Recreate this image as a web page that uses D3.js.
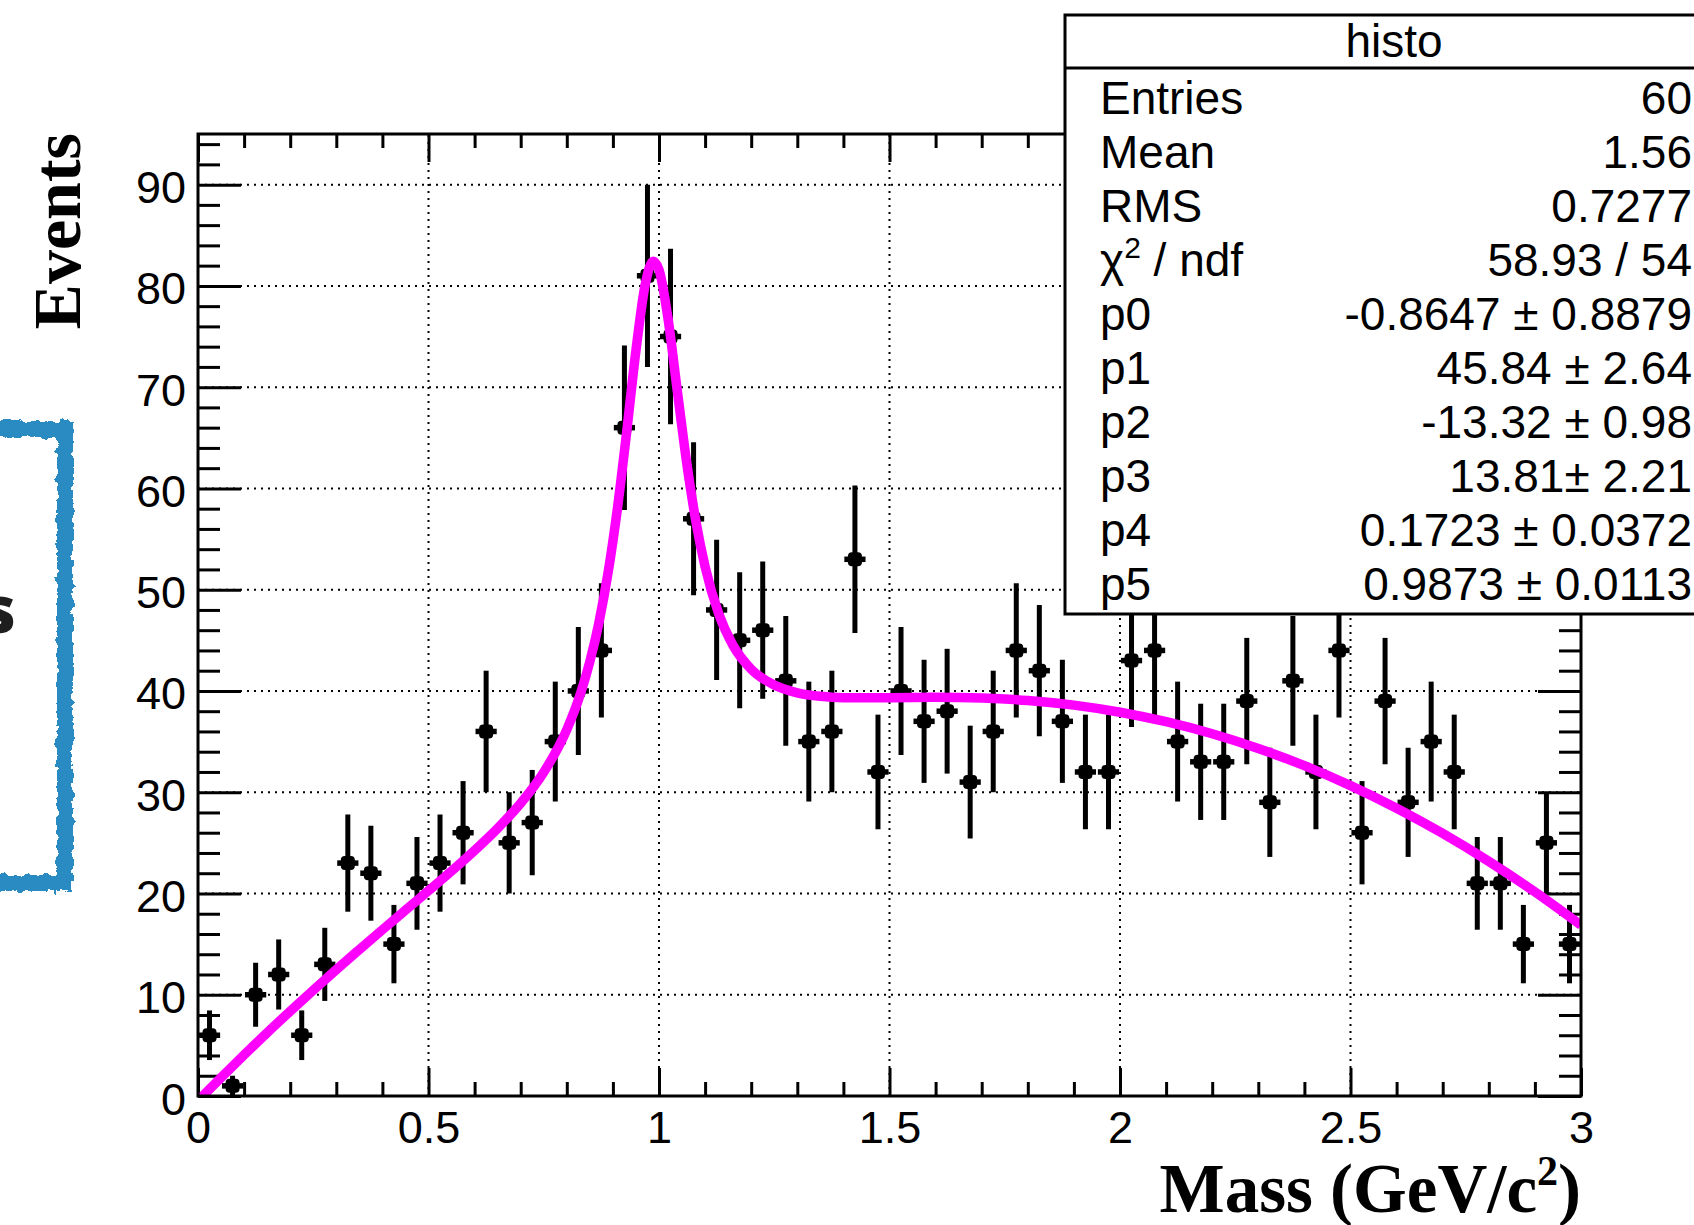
<!DOCTYPE html>
<meta charset="utf-8">

<!-- Load d3.js -->
<script src="https://d3js.org/d3.v7.min.js"></script>

<style>
  body { margin: 0; background: #ffffff; }
  svg { display: block; }
</style>

<svg id="my_dataviz" width="1694" height="1225"></svg>

<script>
// Histogram contents, 60 bins between 0 and 3 GeV/c2
var counts = [ 6, 1,10,12, 6,13,23,22,15,21,
              23,26,36,25,27,35,40,44,66,81,
              75,57,48,45,46,41,35,36,53,32,
              40,37,38,31,36,44,42,37,32,32,
              43,44,35,33,33,39,29,41,32,44,
              26,39,29,35,32,21,21,15,25,15];

// Error bar half lengths
var errors = [2.45,1.00,3.16,3.46,2.45,3.61,4.80,4.69,3.87,4.58,
              4.80,5.10,6.00,5.00,5.20,5.92,6.32,6.63,8.12,9.00,
              8.66,7.55,6.93,6.71,6.78,6.40,5.92,6.00,7.28,5.66,
              6.32,6.08,6.16,5.57,6.00,6.63,6.48,6.08,5.66,5.66,
              6.56,6.63,5.92,5.74,5.74,6.24,5.39,6.40,5.66,6.63,
              5.10,6.24,5.39,5.92,5.66,4.58,4.58,3.87,5.00,3.87];

// Fitted curve (background + peak), sampled along x
var fitX = [0,0.05,0.1,0.15,0.2,0.25,0.3,0.35,0.4,0.45,0.5,0.55,0.6,0.65,0.7,0.75,0.8,
            0.83,0.85,0.87,0.89,0.91,0.93,0.95,0.97,0.9873,1.0,1.02,1.04,1.06,1.08,1.1,
            1.13,1.16,1.2,1.25,1.3,1.35,1.4,1.5,1.6,1.7,1.8,1.9,2.0,2.1,2.2,2.3,2.4,2.5,
            2.6,2.7,2.8,2.9,3.0];
var fitY = [-0.48,1.82,4.06,6.25,8.37,10.45,12.48,14.46,16.42,18.35,20.27,22.22,24.25,26.43,28.91,31.97,36.19,
            39.78,42.89,46.81,51.81,58.09,65.62,73.63,80.12,82.44,81.60,76.63,69.53,62.56,56.75,52.26,
            47.56,44.55,42.15,40.58,39.82,39.47,39.34,39.33,39.37,39.30,39.06,38.60,37.90,36.96,35.77,34.32,32.62,30.65,
            28.42,25.93,23.17,20.15,16.87];

var xTicks = [0, 0.5, 1, 1.5, 2, 2.5, 3];
var yTicks = [0, 10, 20, 30, 40, 50, 60, 70, 80, 90];

var statsTitle = "histo";
var statsNames = ["Entries", "Mean", "RMS", "chi2", "p0", "p1", "p2", "p3", "p4", "p5"];
var statsValues = ["60", "1.56", "0.7277", "58.93 / 54",
                   "-0.8647 \u00b1 0.8879", "45.84 \u00b1 2.64", "-13.32 \u00b1 0.98",
                   "13.81\u00b1 2.21", "0.1723 \u00b1 0.0372", "0.9873 \u00b1 0.0113"];

var svg = d3.select("svg");

var frameL = 198, frameR = 1581, frameT = 134, frameB = 1096;

var x = d3.scaleLinear().domain([0, 3]).range([frameL, frameR]);
var y = d3.scaleLinear().domain([0, 95]).range([frameB, frameT]);

var xMinor = d3.range(0, 3.0001, 0.1).filter(function(v){ return Math.abs(v*2 - Math.round(v*2)) > 1e-6; });
var yMinor = d3.range(0, 95, 2).filter(function(v){ return v % 10 !== 0; });

// sketchy blue frame on the left (part of the slide)
var defs = svg.append("defs");
var rough = defs.append("filter").attr("id", "rough")
    .attr("x", "-10%").attr("y", "-10%").attr("width", "120%").attr("height", "120%");
rough.append("feTurbulence").attr("type", "fractalNoise").attr("baseFrequency", 0.12)
    .attr("numOctaves", 3).attr("seed", 3).attr("result", "noise");
rough.append("feDisplacementMap").attr("in", "SourceGraphic").attr("in2", "noise")
    .attr("scale", 9).attr("xChannelSelector", "R").attr("yChannelSelector", "G");

svg.append("rect")
    .attr("x", -200).attr("y", 429).attr("width", 265).attr("height", 454)
    .attr("fill", "none").attr("stroke", "#2a8ac2").attr("stroke-width", 16)
    .attr("filter", "url(#rough)");

svg.append("text")
    .attr("x", 16).attr("y", 633)
    .attr("text-anchor", "end")
    .style("font-family", "'Open Sans', sans-serif")
    .style("font-weight", 800)
    .style("font-size", "66px")
    .attr("fill", "#1e1e1e")
    .text("s");

// grid
var grid = svg.append("g")
    .attr("stroke", "#000").attr("stroke-width", 2)
    .attr("stroke-dasharray", "2,5");
grid.selectAll(".gx")
  .data(xTicks.slice(1, -1))
  .enter().append("line")
    .attr("x1", function(d){ return x(d); }).attr("x2", function(d){ return x(d); })
    .attr("y1", frameB).attr("y2", frameT);
grid.selectAll(".gy")
  .data(yTicks.slice(1))
  .enter().append("line")
    .attr("y1", function(d){ return y(d); }).attr("y2", function(d){ return y(d); })
    .attr("x1", frameL).attr("x2", frameR);

// axes (ticks on all four sides, pointing inwards)
var fontAxis = "'Liberation Sans', Arial, sans-serif";

function styleAxis(g) {
  g.select(".domain").remove();
  g.selectAll("line").attr("stroke", "#000").attr("stroke-width", 3);
  g.selectAll("text").style("font-family", fontAxis).style("font-size", "45px").attr("fill", "#000");
}

svg.append("g").attr("transform", "translate(0," + frameB + ")")
    .call(d3.axisBottom(x).tickValues(xTicks).tickSizeInner(-28).tickSizeOuter(0)
          .tickPadding(15).tickFormat(d3.format("")))
    .call(styleAxis);
svg.append("g").attr("transform", "translate(0," + frameB + ")")
    .call(d3.axisBottom(x).tickValues(xMinor).tickSizeInner(-14).tickSizeOuter(0).tickFormat(""))
    .call(styleAxis);
svg.append("g").attr("transform", "translate(0," + frameT + ")")
    .call(d3.axisTop(x).tickValues(xTicks).tickSizeInner(-28).tickSizeOuter(0).tickFormat(""))
    .call(styleAxis);
svg.append("g").attr("transform", "translate(0," + frameT + ")")
    .call(d3.axisTop(x).tickValues(xMinor).tickSizeInner(-14).tickSizeOuter(0).tickFormat(""))
    .call(styleAxis);

svg.append("g").attr("transform", "translate(" + frameL + ",0)")
    .call(d3.axisLeft(y).tickValues(yTicks).tickSizeInner(-43).tickSizeOuter(0).tickPadding(12))
    .call(styleAxis)
    .selectAll("text").attr("dy", "0.4em");
svg.append("g").attr("transform", "translate(" + frameL + ",0)")
    .call(d3.axisLeft(y).tickValues(yMinor).tickSizeInner(-22).tickSizeOuter(0).tickFormat(""))
    .call(styleAxis);
svg.append("g").attr("transform", "translate(" + frameR + ",0)")
    .call(d3.axisRight(y).tickValues(yTicks).tickSizeInner(-43).tickSizeOuter(0).tickFormat(""))
    .call(styleAxis);
svg.append("g").attr("transform", "translate(" + frameR + ",0)")
    .call(d3.axisRight(y).tickValues(yMinor).tickSizeInner(-22).tickSizeOuter(0).tickFormat(""))
    .call(styleAxis);

// data points with error bars
var bins = counts.map(function(c, i){ return { x: 0.025 + 0.05 * i, n: c, e: errors[i] }; });

var pts = svg.append("g").selectAll("g")
  .data(bins)
  .enter().append("g");
pts.append("line")
    .attr("x1", function(d){ return x(d.x); }).attr("x2", function(d){ return x(d.x); })
    .attr("y1", function(d){ return y(d.n - d.e); }).attr("y2", function(d){ return y(d.n + d.e); })
    .attr("stroke", "#000").attr("stroke-width", 5);
pts.append("line")
    .attr("x1", function(d){ return x(d.x - 0.023); }).attr("x2", function(d){ return x(d.x + 0.023); })
    .attr("y1", function(d){ return y(d.n); }).attr("y2", function(d){ return y(d.n); })
    .attr("stroke", "#000").attr("stroke-width", 5.5);
pts.append("rect")
    .attr("x", function(d){ return x(d.x) - 7; })
    .attr("y", function(d){ return y(d.n) - 7; })
    .attr("width", 14).attr("height", 14)
    .attr("rx", 4)
    .attr("fill", "#000");

// fit curve
defs.append("clipPath").attr("id", "plotclip")
  .append("rect").attr("x", frameL).attr("y", frameT)
    .attr("width", frameR - frameL).attr("height", frameB - frameT);

var fitLine = d3.line()
    .x(function(d, i){ return x(fitX[i]); })
    .y(function(d){ return y(d); })
    .curve(d3.curveMonotoneX);

svg.append("path")
    .datum(fitY)
    .attr("d", fitLine)
    .attr("clip-path", "url(#plotclip)")
    .attr("fill", "none")
    .attr("stroke", "#ff00ff")
    .attr("stroke-width", 9.5)
    .attr("stroke-linejoin", "round");

// frame
svg.append("rect")
    .attr("x", frameL).attr("y", frameT).attr("width", frameR - frameL).attr("height", frameB - frameT)
    .attr("fill", "none").attr("stroke", "#000").attr("stroke-width", 3);

// axis titles
var fontTitle = "'Liberation Serif', 'Times New Roman', serif";

svg.append("text")
    .attr("transform", "translate(80,133) rotate(-90)")
    .attr("text-anchor", "end")
    .style("font-family", fontTitle).style("font-weight", "bold").style("font-size", "68px")
    .text("Events");

var xt = svg.append("text")
    .attr("x", frameR).attr("y", 1212)
    .attr("text-anchor", "end")
    .style("font-family", fontTitle).style("font-weight", "bold").style("font-size", "69px");
xt.append("tspan").text("Mass (GeV/c");
xt.append("tspan").attr("dy", -27).style("font-size", "42px").text("2");
xt.append("tspan").attr("dy", 27).text(")");

// statistics box
var stats = svg.append("g")
    .style("font-family", fontAxis).style("font-size", "46px").attr("fill", "#000");

stats.append("rect")
    .attr("x", 1065).attr("y", 15).attr("width", 700).attr("height", 599)
    .attr("fill", "#fff").attr("stroke", "#000").attr("stroke-width", 3);
stats.append("line")
    .attr("x1", 1065).attr("x2", 1765).attr("y1", 68).attr("y2", 68)
    .attr("stroke", "#000").attr("stroke-width", 3);
stats.append("text")
    .attr("x", 1394).attr("y", 57).attr("text-anchor", "middle")
    .text(statsTitle);

var row = d3.scaleLinear().domain([0, statsNames.length - 1]).range([114, 600]);

statsNames.forEach(function(name, i){
  var t = stats.append("text").attr("x", 1100).attr("y", row(i));
  if (name === "chi2") {
    t.append("tspan").text("\u03c7");
    t.append("tspan").attr("dy", -18).style("font-size", "30px").text("2");
    t.append("tspan").attr("dy", 18).text(" / ndf");
  } else {
    t.text(name);
  }
  stats.append("text")
      .attr("x", 1692).attr("y", row(i)).attr("text-anchor", "end")
      .text(statsValues[i]);
});
</script>
